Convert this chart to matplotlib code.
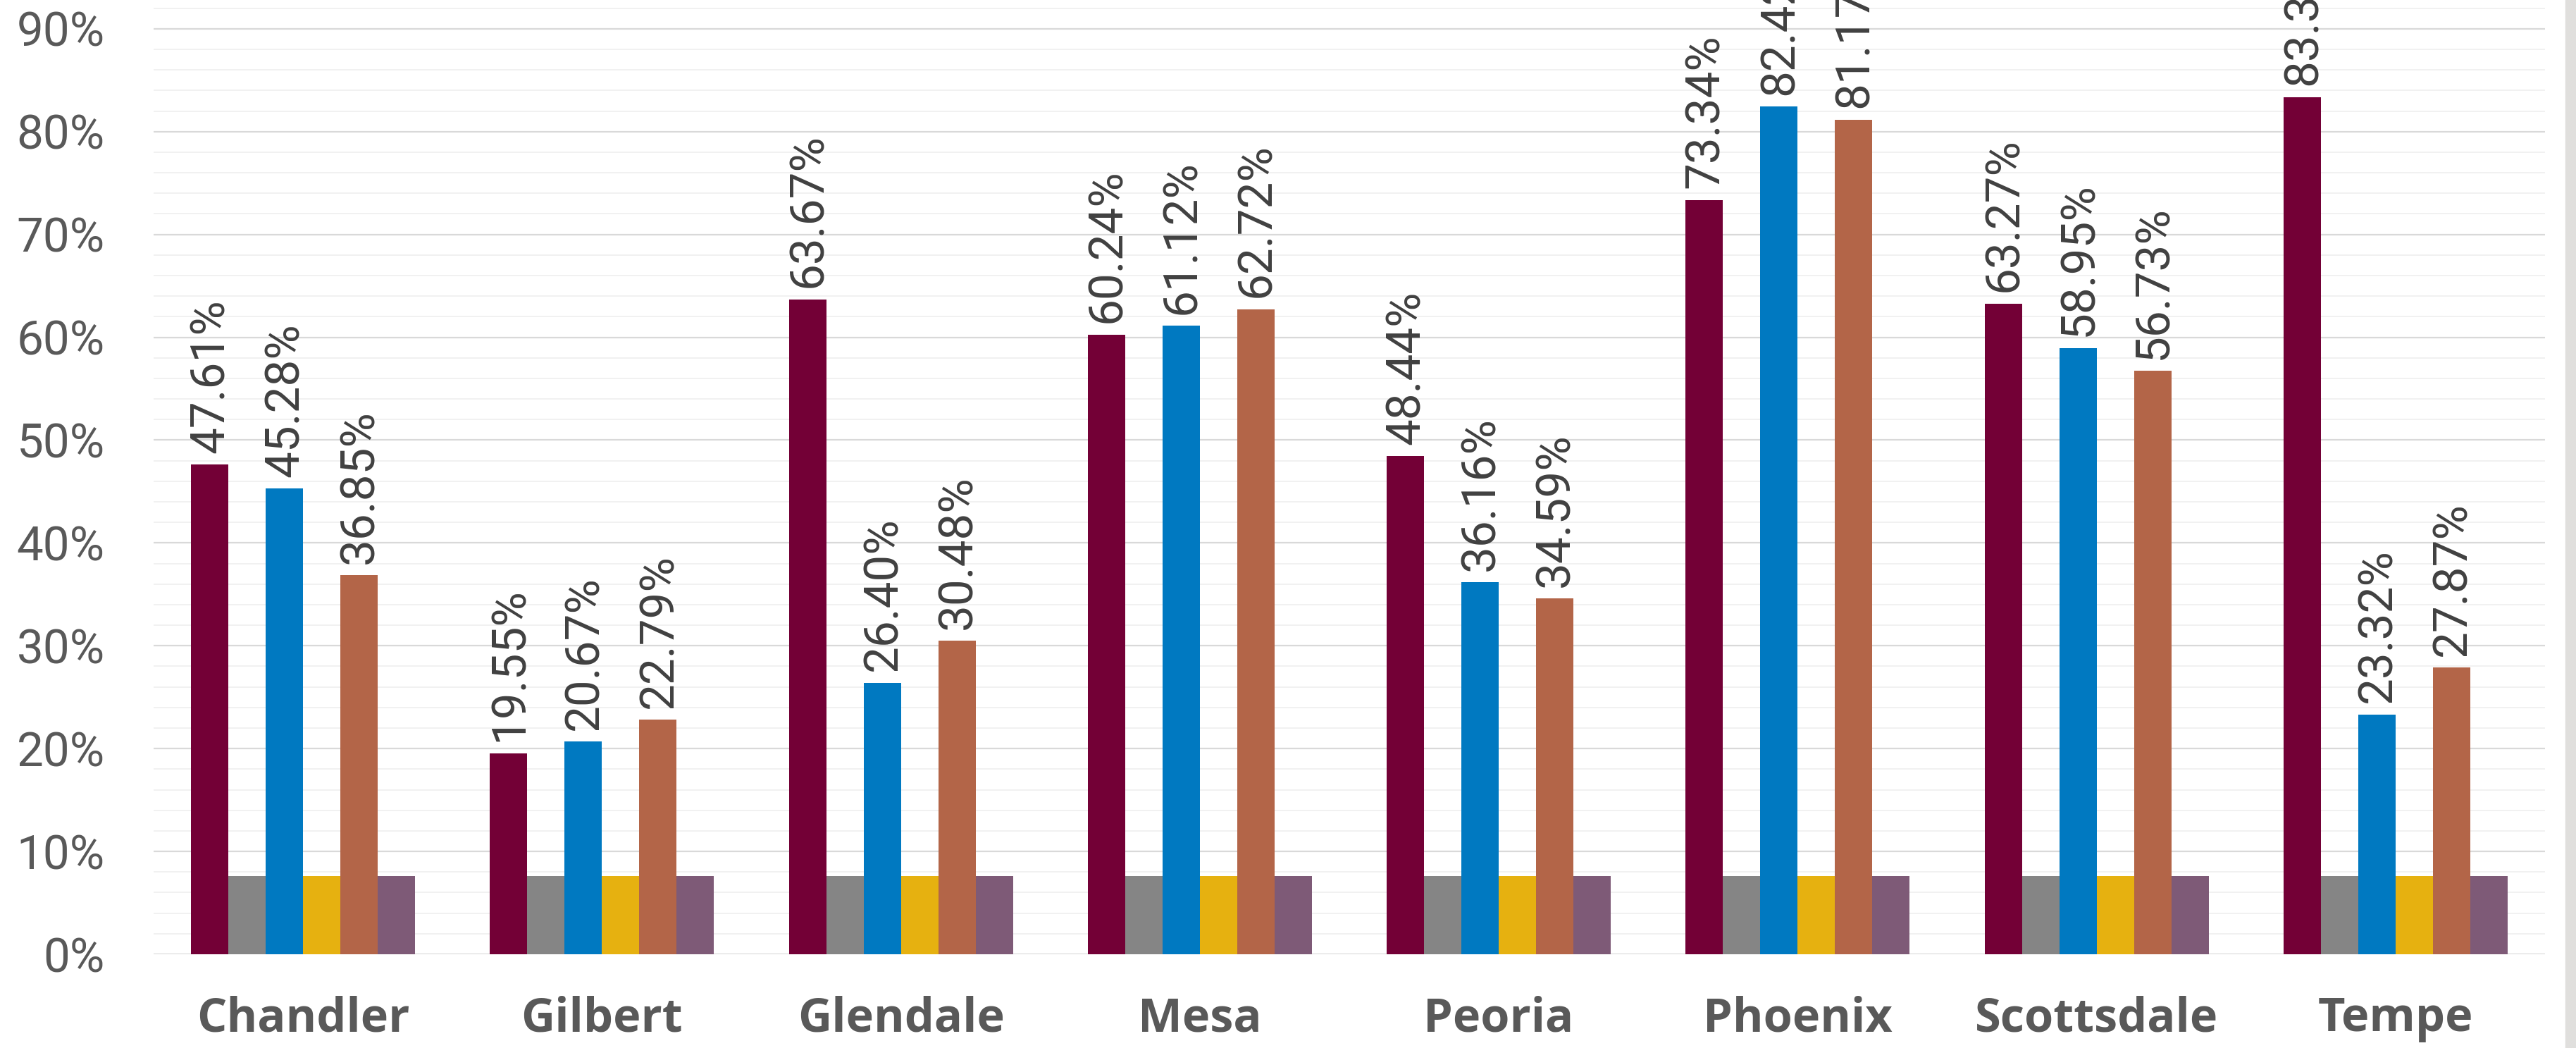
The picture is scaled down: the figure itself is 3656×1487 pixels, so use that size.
import matplotlib
matplotlib.use("Agg")
import matplotlib.pyplot as plt
import numpy as np
from matplotlib.patches import Rectangle
from matplotlib.ticker import MultipleLocator, FuncFormatter

cities = ["Chandler", "Gilbert", "Glendale", "Mesa", "Peoria", "Phoenix", "Scottsdale", "Tempe"]

# three labelled series (maroon, blue, brown) and three flat reference series
maroon_vals = [47.61, 19.55, 63.67, 60.24, 48.44, 73.34, 63.27, 83.36]
blue_vals = [45.28, 20.67, 26.40, 61.12, 36.16, 82.42, 58.95, 23.32]
brown_vals = [36.85, 22.79, 30.48, 62.72, 34.59, 81.17, 56.73, 27.87]
gray_vals = [7.63] * 8
yellow_vals = [7.63] * 8
purple_vals = [7.63] * 8

series = [
    (maroon_vals, "#730036", True),
    (gray_vals, "#858585", False),
    (blue_vals, "#0079C1", True),
    (yellow_vals, "#E6B110", False),
    (brown_vals, "#B36548", True),
    (purple_vals, "#7E5A77", False),
]

W, H = 3656, 1487
fig = plt.figure(figsize=(W / 100, H / 100), dpi=100)
ax = fig.add_axes([218 / W, (H - 1354) / H, (3612 - 218) / W, 1354 / H])

x = np.arange(len(cities))
bar_w = 0.125
for i, (vals, color, labelled) in enumerate(series):
    pos = x + (i - 2.5) * bar_w
    bars = ax.bar(pos, vals, width=bar_w, color=color, zorder=3, linewidth=0)
    if labelled:
        for b, v in zip(bars, vals):
            ax.annotate(f"{v:.2f}%", (b.get_x() + b.get_width() / 2, v),
                        xytext=(1.5, 12), textcoords="offset points",
                        rotation=90, ha="center", va="bottom",
                        fontsize=48.5, family="Roboto", color="#404040",
                        annotation_clip=False)

ax.set_xlim(-0.5, len(cities) - 0.5)
ax.set_ylim(0, 92.8)
ax.yaxis.set_major_locator(MultipleLocator(10))
ax.yaxis.set_minor_locator(MultipleLocator(2))
ax.yaxis.set_major_formatter(FuncFormatter(lambda v, p: f"{v:.0f}%"))
ax.grid(axis="y", which="major", color="#d9d9d9", linewidth=1.6, zorder=0)
ax.grid(axis="y", which="minor", color="#f1f1f1", linewidth=1.4, zorder=0)
ax.set_axisbelow(True)

ax.set_xticks(x)
ax.set_xticklabels(cities, fontsize=48, family="Open Sans", fontweight="bold", color="#595959")
for lab in ax.get_yticklabels():
    lab.set_fontsize(48.5)
    lab.set_family("Roboto")
    lab.set_color("#595959")
ax.tick_params(axis="both", which="both", length=0)
ax.tick_params(axis="y", pad=50)
ax.tick_params(axis="x", pad=42)
for s in ax.spines.values():
    s.set_visible(False)

# grey strip on the right edge of the page
fig.patches.append(Rectangle((3641 / W, 0), 15 / W, 1, transform=fig.transFigure,
                             color="#e0dfdd", zorder=0))

fig.savefig("out.png", dpi=100, facecolor="white")
